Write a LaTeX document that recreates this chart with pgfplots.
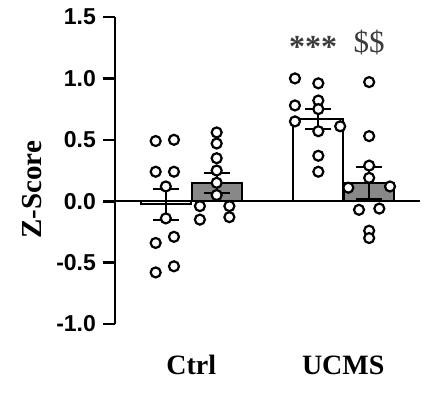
\documentclass[border=0pt]{standalone}
\usepackage{pgfplots}
\pgfplotsset{compat=1.18}
\usepackage{fontspec}
\setmainfont{Liberation Serif}
\newfontfamily\arialfont{Liberation Sans}
\definecolor{bargray}{HTML}{888888}
\definecolor{anngray}{HTML}{3C3C3C}
\begin{document}
\begin{tikzpicture}
\useasboundingbox (-57.5pt,-34.5pt) rectangle (157.5pt,162pt);
\begin{axis}[
  scale only axis,
  width=152.5pt, height=153.5pt,
  xmin=0, xmax=6, ymin=-1, ymax=1.5,
  axis y line*=left,
  axis x line=none,
  y axis line style={line width=1.3pt, -},
  ytick={-1,-0.5,0,0.5,1,1.5},
  yticklabel style={font=\arialfont\bfseries\fontsize{11.5}{12}\selectfont, xshift=0pt},
  /pgf/number format/assume math mode=true,
  yticklabel={\pgfmathprintnumber[fixed,fixed zerofill,precision=1]{\tick}},
  major tick length=6pt,
  tick style={line width=1.3pt, black},
  tick align=outside,
  ylabel={\bfseries Z-Score},
  ylabel style={font=\fontsize{14.5}{16}\selectfont, at={(axis description cs:-0.272,0.437)}, anchor=center},
  clip=false,
]
% bars
\addplot[ybar, bar width=25pt, bar shift=0pt, fill=white, draw=black, line width=1.1pt] coordinates {(1,-0.02) (4,0.67)};
\addplot[ybar, bar width=25pt, bar shift=0pt, fill=bargray, draw=black, line width=1.1pt] coordinates {(2,0.145) (5,0.15)};
% zero line
\addplot[black, line width=0.8pt] coordinates {(0,0) (6,0)};
% error bars
\addplot[draw=none, mark=none, forget plot,
  error bars/.cd, y dir=both, y explicit,
  error bar style={line width=1pt, black, solid},
  error mark options={rotate=90, mark size=6.5pt, line width=1pt, black}]
  coordinates {
  (1,-0.025) +- (0,0.125)
  (2,0.15) +- (0,0.08)
  (4,0.67) +- (0,0.08)
  (5,0.15) +- (0,0.13)
};
% points
\addplot[only marks, mark=*, mark size=2.5pt, mark options={fill=white, draw=black, line width=1.1pt}] coordinates {
(0.8,0.49) (1.16,0.50) (0.8,0.24) (1.16,0.24) (1.0,0.12) (1.0,-0.14) (1.16,-0.29) (0.8,-0.34) (0.8,-0.58) (1.16,-0.53)
(2.0,0.56) (2.0,0.47) (2.0,0.35) (2.0,0.25) (2.0,0.15) (2.0,0.05) (1.67,-0.04) (2.25,-0.04) (1.67,-0.15) (2.25,-0.13)
(3.54,1.0) (3.54,0.78) (3.54,0.65) (4.0,0.96) (4.0,0.82) (4.0,0.75) (4.0,0.57) (4.43,0.61) (4.0,0.37) (4.0,0.24)
(5.0,0.97) (5.0,0.53) (5.0,0.29) (5.0,0.19) (4.59,0.11) (5.41,0.12) (4.8,-0.07) (5.2,-0.06) (5.0,-0.24) (5.0,-0.30)
};
% labels
\node[font=\bfseries\fontsize{14}{16}\selectfont, anchor=base] at (axis cs:1.5,-1.41) {Ctrl};
\node[font=\bfseries\fontsize{14}{16}\selectfont, anchor=base] at (axis cs:4.49,-1.41) {UCMS};
\node[font=\bfseries\fontsize{16}{18}\selectfont, text=anngray] at (axis cs:3.9,1.26) {***};
\node[font=\fontsize{15.5}{16}\selectfont, text=anngray] at (axis cs:5.0,1.29) {\$\$};
\end{axis}
\end{tikzpicture}
\end{document}
